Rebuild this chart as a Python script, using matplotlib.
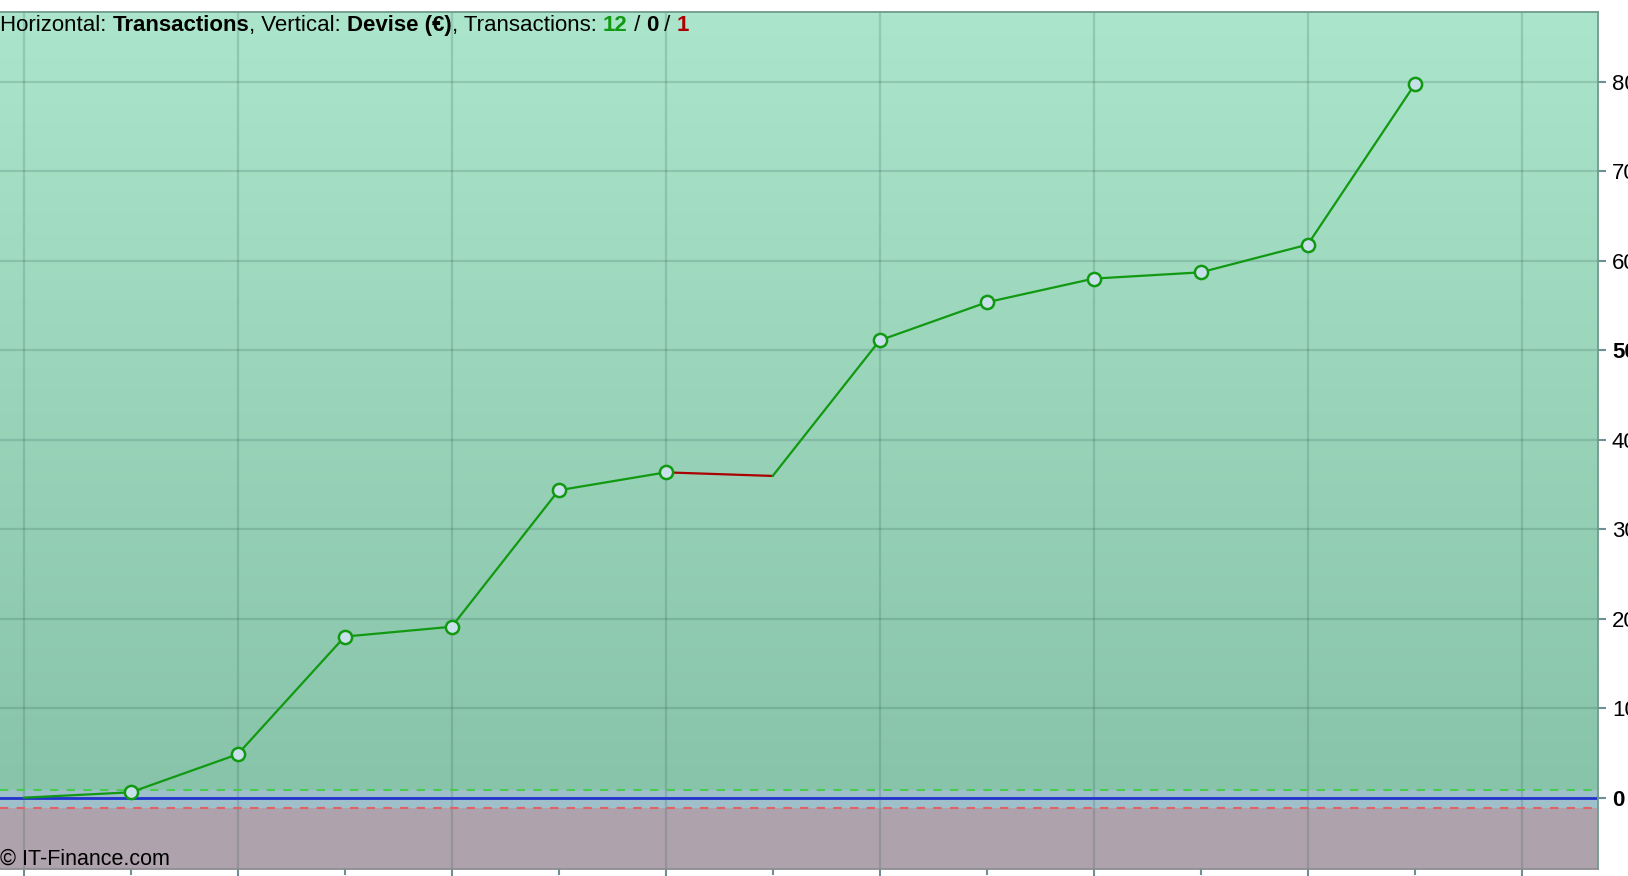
import numpy as np
import matplotlib
matplotlib.use("Agg")
import matplotlib.pyplot as plt
from matplotlib.colors import LinearSegmentedColormap

# ---- data ----
trade_index = list(range(14))
equity = [0, 0.6, 4.85, 18.0, 19.1, 34.35, 36.35, 35.95, 51.1, 55.35, 58.0, 58.7, 61.8, 79.7]
y_ticks = [0, 10, 20, 30, 40, 50, 60, 70, 80]
y_tick_labels = ["0", "10", "20", "30", "40", "50", "60", "70", "80"]
bold_labels = ["0", "50"]
upper_band = 0.9
lower_band = -1.15
n_win, n_even, n_loss = 12, 0, 1

plt.rcParams['font.family'] = ['Liberation Sans', 'DejaVu Sans']

W, H = 1628, 876
fig = plt.figure(figsize=(W / 100, H / 100), dpi=100)
ax = fig.add_axes([0, (876 - 869) / 876, 1598 / 1628, 857 / 876])

xlim = (-0.2215, 14.713)
ylim = (-7.97, 87.79)

# background
cmap = LinearSegmentedColormap.from_list("bg", ["#88c4a9", "#abe5cb"])
grad = np.linspace(0, 1, 256).reshape(-1, 1)
ax.imshow(grad, cmap=cmap, origin="lower", aspect="auto",
          extent=(xlim[0], xlim[1], upper_band, ylim[1]), zorder=0)
ax.axhspan(lower_band, upper_band, color="#9fbfcb", zorder=0, lw=0)
ax.axhspan(ylim[0], lower_band, color="#aea2ac", zorder=0, lw=0)
ax.set_xlim(*xlim)
ax.set_ylim(*ylim)

# grid
ax.set_xticks(np.arange(0, 15, 2))
ax.set_xticks(np.arange(1, 15, 2), minor=True)
ax.set_yticks(y_ticks)
ax.set_yticklabels(y_tick_labels)
ax.grid(True, which="major", color="#2f5a50", alpha=0.2, lw=1.6, zorder=1)
ax.set_axisbelow(True)

# band lines
ax.axhline(upper_band, color="#4ccc4c", lw=1.5, ls=(0, (4, 4)), zorder=2)
ax.axhline(lower_band, color="#e06262", lw=1.5, ls=(0, (4, 4)), zorder=2)
ax.axhline(0, color="#2233cc", lw=2, zorder=2)

# equity line
for i in range(1, len(equity)):
    c = "#119911" if equity[i] >= equity[i - 1] else "#aa0000"
    ax.plot(trade_index[i - 1:i + 1], equity[i - 1:i + 1], color=c, lw=1.6,
            zorder=3, solid_capstyle="round")
wins = [i for i in range(1, len(equity)) if equity[i] > equity[i - 1]]
ax.plot([trade_index[i] for i in wins], [equity[i] for i in wins], ls="none",
        marker="o", ms=9.5, mfc="#c8e0ea", mec="#119911", mew=1.8, zorder=4)

# axes styling
ax.yaxis.tick_right()
ax.tick_params(axis="y", which="major", length=6, width=1.5, color="#6f8f94",
               pad=4, labelsize=16, labelcolor="black")
ax.tick_params(axis="x", which="major", length=7, width=1.5, color="#6f8f94",
               labelbottom=False)
ax.tick_params(axis="x", which="minor", length=4, width=1.5, color="#6f8f94")
for lab in ax.get_yticklabels():
    if lab.get_text() in bold_labels:
        lab.set_fontweight("bold")
for s in ["top", "right", "bottom"]:
    ax.spines[s].set_color("#6f9a8c")
    ax.spines[s].set_linewidth(1.3)
ax.spines["bottom"].set_color("#8c8c92")
ax.spines["left"].set_visible(False)

# title with mixed styles
parts = [
    ("Horizontal: ", "normal", "black"),
    ("Transactions", "bold", "black"),
    (", Vertical: ", "normal", "black"),
    ("Devise (€)", "bold", "black"),
    (", Transactions: ", "normal", "black"),
    (str(n_win), "bold", "#119911"),
    (" / ", "normal", "black"),
    (str(n_even), "bold", "black"),
    (" / ", "normal", "black"),
    (str(n_loss), "bold", "#aa0000"),
]
fs_title = 16
t = fig.text(0.0, 1 - 31 / 876, parts[0][0], fontsize=fs_title, fontweight=parts[0][1],
             color=parts[0][2], ha="left", va="baseline", zorder=10)
for txt, wt, col in parts[1:]:
    t = ax.annotate(txt, xy=(1, 0), xycoords=t, fontsize=fs_title, fontweight=wt,
                    color=col, ha="left", va="bottom", annotation_clip=False, zorder=10)

fig.text(0.0, (876 - 865) / 876, "© IT-Finance.com", fontsize=15.5,
         ha="left", va="baseline", zorder=10)

fig.savefig("out.png", dpi=100)
